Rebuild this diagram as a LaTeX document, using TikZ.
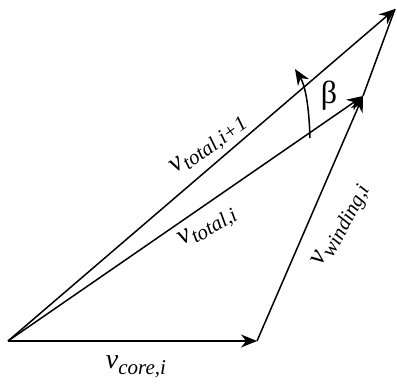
\documentclass[tikz,border=0pt]{standalone}
\usepackage{fontspec}
\setmainfont{Liberation Serif}
\usetikzlibrary{arrows.meta, positioning}

\newcommand{\vsub}[1]{\textit{v}\raisebox{-0.45ex}{\fontsize{10.5}{12}\selectfont\textit{#1}}}

\begin{document}
\begin{tikzpicture}[x=0.5pt, y=-0.5pt, font=\fontsize{14}{16}\selectfont,
    >={Stealth[length=8pt, width=6.5pt]}, line width=0.75pt]
    \useasboundingbox (0,0) rectangle (397,386);

    \coordinate (o) at (8,341);
    \coordinate (core) at (257,341);
    \coordinate (ti) at (363,96);
    \coordinate (tn) at (395,9);

    \draw[->] (o) -- (core);
    \draw[->] (core) -- (ti);
    \draw[->] (o) -- (ti);
    \draw[->] (o) -- (tn);
    \draw (ti) -- (tn);

    % angle between the two totals
    \coordinate (b1) at (310,138);
    \coordinate (b2) at (295,69);
    \draw[->] (b1) .. controls (309,105) and (305,85) .. (b2);
    \node (beta) at (329,96) {\fontsize{16}{18}\selectfont β};

    \node[rotate=36] (ltn) at (209,146) {\vsub{total,i+1}};
    \node[rotate=30] (lti) at (208,228) {\vsub{total,i}};
    \node[rotate=62] (lw) at (342,226) {\vsub{winding,i}};
    \node (lc) at (136,367) {\vsub{core,i}};
\end{tikzpicture}
\end{document}
